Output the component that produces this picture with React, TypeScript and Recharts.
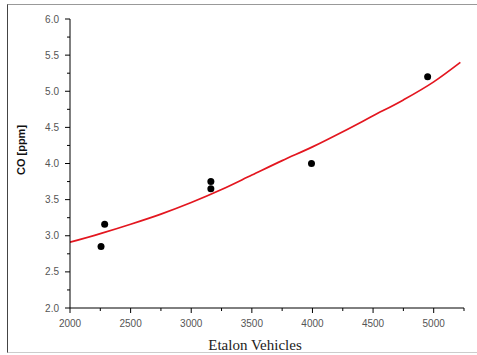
import { ComposedChart, Line, Scatter, XAxis, YAxis } from "recharts";

// measured samples
const vehicles = [2256, 2286, 3162, 3162, 3992, 4950];
const coPpm = [2.85, 3.16, 3.75, 3.65, 4.0, 5.2];

// fitted curve, read at 250-vehicle steps
const fitX = [2000, 2250, 2500, 2750, 3000, 3250, 3500, 3750, 4000, 4250, 4500, 4750, 5000, 5220];
const fitY = [2.91, 3.03, 3.16, 3.3, 3.46, 3.64, 3.84, 4.04, 4.23, 4.44, 4.66, 4.88, 5.13, 5.4];

const xTicks = [2000, 2250, 2500, 2750, 3000, 3250, 3500, 3750, 4000, 4250, 4500, 4750, 5000, 5250];
const yTicks = [2, 2.25, 2.5, 2.75, 3, 3.25, 3.5, 3.75, 4, 4.25, 4.5, 4.75, 5, 5.25, 5.5, 5.75, 6];

const points = vehicles.map((x, i) => ({ x, y: coPpm[i] }));
const fit = fitX.map((x, i) => ({ x, y: fitY[i] }));

const tickFont = { fontFamily: "'Liberation Sans', Arial, sans-serif", fontSize: 10, fill: "#555" };

function XTick({ x, y, payload }: any) {
  const major = payload.value % 500 === 0;
  return (
    <g>
      <line x1={x} x2={x} y1={y} y2={y + (major ? 5 : 3)} stroke="#000" />
      {major && (
        <text x={x} y={y + 19} textAnchor="middle" {...tickFont}>
          {payload.value}
        </text>
      )}
    </g>
  );
}

function YTick({ x, y, payload }: any) {
  const major = Math.abs((payload.value * 2) % 1) < 1e-6;
  return (
    <g>
      <line x1={x} x2={x - (major ? 5 : 3)} y1={y} y2={y} stroke="#000" />
      {major && (
        <text x={x - 11} y={y + 3.5} textAnchor="end" {...tickFont}>
          {payload.value.toFixed(1)}
        </text>
      )}
    </g>
  );
}

export default function App() {
  return (
    <div style={{ position: "relative", width: 477, height: 355, overflow: "hidden", background: "#fff" }}>
      <style>{"body{margin:0}"}</style>
      <div
        style={{
          position: "absolute",
          left: 7,
          top: 4,
          width: 480,
          height: 347,
          borderLeft: "1px solid #444",
          borderTop: "1px solid #999",
          borderBottom: "1px solid #ccc",
        }}
      />
      <ComposedChart
        width={477}
        height={355}
        margin={{ top: 19, right: 13, bottom: 17, left: 0 }}
        style={{ position: "absolute", left: 0, top: 0 }}
      >
        <XAxis
          type="number"
          dataKey="x"
          domain={[2000, 5250]}
          ticks={xTicks}
          interval={0}
          height={30}
          stroke="#000"
          tickLine={false}
          tickSize={0}
          tickMargin={0}
          tick={<XTick />}
          allowDataOverflow
        />
        <YAxis
          type="number"
          dataKey="y"
          domain={[2, 6]}
          ticks={yTicks}
          interval={0}
          width={70}
          stroke="#000"
          tickLine={false}
          tickSize={0}
          tickMargin={0}
          tick={<YTick />}
          allowDataOverflow
        />
        <Line
          data={fit}
          dataKey="y"
          type="monotone"
          stroke="#e3161f"
          strokeWidth={1.7}
          dot={false}
          isAnimationActive={false}
        />
        <Scatter
          data={points}
          dataKey="y"
          fill="#000"
          shape={(p: any) => <circle cx={p.cx} cy={p.cy} r={3.5} fill="#000" />}
          isAnimationActive={false}
        />
      </ComposedChart>
      <div
        style={{
          position: "absolute",
          left: 21,
          top: 150,
          transform: "translate(-50%, -50%) rotate(-90deg)",
          fontFamily: "'Liberation Sans', Arial, sans-serif",
          fontWeight: "bold",
          fontSize: 11,
          color: "#111",
          whiteSpace: "nowrap",
        }}
      >
        CO [ppm]
      </div>
      <div
        style={{
          position: "absolute",
          left: 255,
          top: 345,
          transform: "translate(-50%, -50%)",
          fontFamily: "'Liberation Serif', 'Times New Roman', serif",
          fontSize: 15,
          color: "#222",
          whiteSpace: "nowrap",
        }}
      >
        Etalon Vehicles
      </div>
    </div>
  );
}
